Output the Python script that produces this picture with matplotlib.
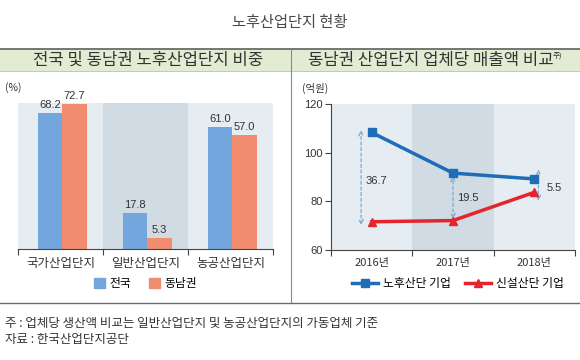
import numpy as np
import matplotlib.pyplot as plt
from matplotlib.lines import Line2D
from matplotlib.patches import Patch, Rectangle

plt.rcParams['font.family'] = ['Noto Sans CJK KR', 'DejaVu Sans']

# 데이터
categories = ['국가산업단지', '일반산업단지', '농공산업단지']
share_nation = [68.2, 17.8, 61.0]
share_southeast = [72.7, 5.3, 57.0]

years = ['2016년', '2017년', '2018년']
sales_old = [108.3, 91.6, 89.2]
sales_new = [71.6, 72.1, 83.7]
gap_labels = ['36.7', '19.5', '5.5']

W, H = 580, 360
fig = plt.figure(figsize=(W / 100, H / 100), dpi=100)


def fx(px):
    return px / W


def fy(py):
    return 1 - py / H


band_light = '#e5ecf2'
band_dark = '#d0dbe4'
axis_col = '#444444'
num_font = ['Liberation Sans', 'DejaVu Sans']

# 제목
fig.text(fx(290), fy(22), '노후산업단지 현황', ha='center', va='center',
         fontsize=11, color='#4a4a4a')

# 헤더 띠
fig.patches.append(Rectangle((0, fy(71)), 1, fy(49) - fy(71), transform=fig.transFigure,
                             facecolor='#e4ebd3', edgecolor='none', zorder=0))
fig.add_artist(Line2D([0, 1], [fy(49), fy(49)], color='#6b6b6b', lw=1.3))
fig.add_artist(Line2D([0, 1], [fy(71), fy(71)], color='#b8bfae', lw=0.6))
fig.add_artist(Line2D([fx(291), fx(291)], [fy(49), fy(303)], color='#8a8a8a', lw=0.8))
fig.add_artist(Line2D([0, 1], [fy(303), fy(303)], color='#6b6b6b', lw=1.0))
fig.text(fx(148), fy(60), '전국 및 동남권 노후산업단지 비중', ha='center', va='center',
         fontsize=12, fontweight='medium', color='#333333')
fig.text(fx(431), fy(60), '동남권 산업단지 업체당 매출액 비교', ha='center', va='center',
         fontsize=12, fontweight='medium', color='#333333')
fig.text(fx(553), fy(56), '주)', ha='left', va='center', fontsize=5.5, color='#333333')

# 왼쪽: 막대그래프
ax1 = fig.add_axes([fx(18), fy(249), fx(273) - fx(18), fy(103) - fy(249)])
x = np.arange(len(categories))
w = 0.29
for i in range(len(categories)):
    ax1.axvspan(i - 0.5, i + 0.5, color=band_dark if i == 1 else band_light, lw=0, zorder=0)
b1 = ax1.bar(x - w / 2 + 0.02, share_nation, w, color='#72a6dd', zorder=2)
b2 = ax1.bar(x + w / 2 + 0.02, share_southeast, w, color='#f28c6e', zorder=2)
for bars in (b1, b2):
    for r in bars:
        ax1.text(r.get_x() + r.get_width() / 2, r.get_height() + 1.5, f'{r.get_height():.1f}',
                 ha='center', va='bottom', fontsize=8, color='#333333', family=num_font)
ax1.set_xlim(-0.5, 2.5)
ax1.set_ylim(0, 73)
for s in ['top', 'right', 'left']:
    ax1.spines[s].set_visible(False)
ax1.spines['bottom'].set_color(axis_col)
ax1.set_yticks([])
ax1.set_xticks([-0.5, 0.5, 1.5, 2.5])
ax1.set_xticklabels([])
ax1.tick_params(axis='x', length=4, color=axis_col, direction='out')
ax1.set_xticks(x, minor=True)
ax1.set_xticklabels(categories, minor=True)
ax1.tick_params(axis='x', which='minor', length=0, pad=6, labelsize=9, labelcolor='#333333')
ax1.patch.set_visible(False)
fig.text(fx(5), fy(88), '(%)', ha='left', va='center', fontsize=7.5, color='#333333')
ax1.legend(handles=[Patch(color='#72a6dd', label='전국'), Patch(color='#f28c6e', label='동남권')],
           loc='center', bbox_to_anchor=(0.5, -0.235), ncol=2, frameon=False, fontsize=8.5,
           handlelength=0.9, handleheight=0.9, handletextpad=0.4, columnspacing=1.5)

# 오른쪽: 꺾은선그래프
ax2 = fig.add_axes([fx(331), fy(250), fx(575) - fx(331), fy(104) - fy(250)])
xy = np.arange(len(years))
for i in range(len(years)):
    ax2.axvspan(i - 0.5, i + 0.5, color=band_dark if i == 1 else band_light, lw=0, zorder=0)
ax2.plot(xy, sales_old, color='#1f6db6', lw=2.5, marker='s', ms=6, zorder=3, label='노후산단 기업')
ax2.plot(xy, sales_new, color='#e3262b', lw=2.5, marker='^', ms=6, zorder=3, label='신설산단 기업')

arrow_dx = [-0.13, 0.0, 0.05]
pad_top = [1.0, -1.2, 4.0]
pad_bot = [-1.4, 0.6, -3.5]
label_dx = [-0.07, 0.05, 0.15]
label_y = [88.5, 81.3, 85.4]
for i in range(len(years)):
    ax2.annotate('', xy=(i + arrow_dx[i], sales_old[i] + pad_top[i]),
                 xytext=(i + arrow_dx[i], sales_new[i] + pad_bot[i]),
                 arrowprops=dict(arrowstyle='<->', linestyle=(0, (2.5, 2)), color='#7ea9d3',
                                 lw=0.9, shrinkA=0, shrinkB=0, mutation_scale=8), zorder=2)
    ax2.text(i + label_dx[i], label_y[i], gap_labels[i], ha='left', va='center',
             fontsize=8, color='#333333', family=num_font)

ax2.set_xlim(-0.5, 2.5)
ax2.set_ylim(60, 120)
ax2.spines['top'].set_visible(False)
ax2.spines['right'].set_visible(False)
ax2.spines['left'].set_color(axis_col)
ax2.spines['bottom'].set_color(axis_col)
ax2.set_yticks([60, 80, 100, 120])
ax2.tick_params(axis='y', length=4, color=axis_col, labelsize=8, labelcolor='#333333', pad=2)
for t in ax2.get_yticklabels():
    t.set_family(num_font)
ax2.set_xticks([-0.5, 0.5, 1.5, 2.5])
ax2.set_xticklabels([])
ax2.tick_params(axis='x', length=4, color=axis_col)
ax2.set_xticks(xy, minor=True)
ax2.set_xticklabels(years, minor=True)
ax2.tick_params(axis='x', which='minor', length=0, pad=6, labelsize=8, labelcolor='#333333')
ax2.patch.set_visible(False)
fig.text(fx(302), fy(88), '(억원)', ha='left', va='center', fontsize=7.5, color='#333333')
ax2.legend(loc='center', bbox_to_anchor=(0.52, -0.23), ncol=2, frameon=False, fontsize=8.5,
           handlelength=2.2, handletextpad=0.4, columnspacing=1.2)

# 주석
fig.text(fx(5), fy(323), '주 : 업체당 생산액 비교는 일반산업단지 및 농공산업단지의 가동업체 기준',
         ha='left', va='center', fontsize=9, color='#333333')
fig.text(fx(5), fy(340), '자료 : 한국산업단지공단', ha='left', va='center', fontsize=9, color='#333333')

fig.savefig('out.png', dpi=100)
